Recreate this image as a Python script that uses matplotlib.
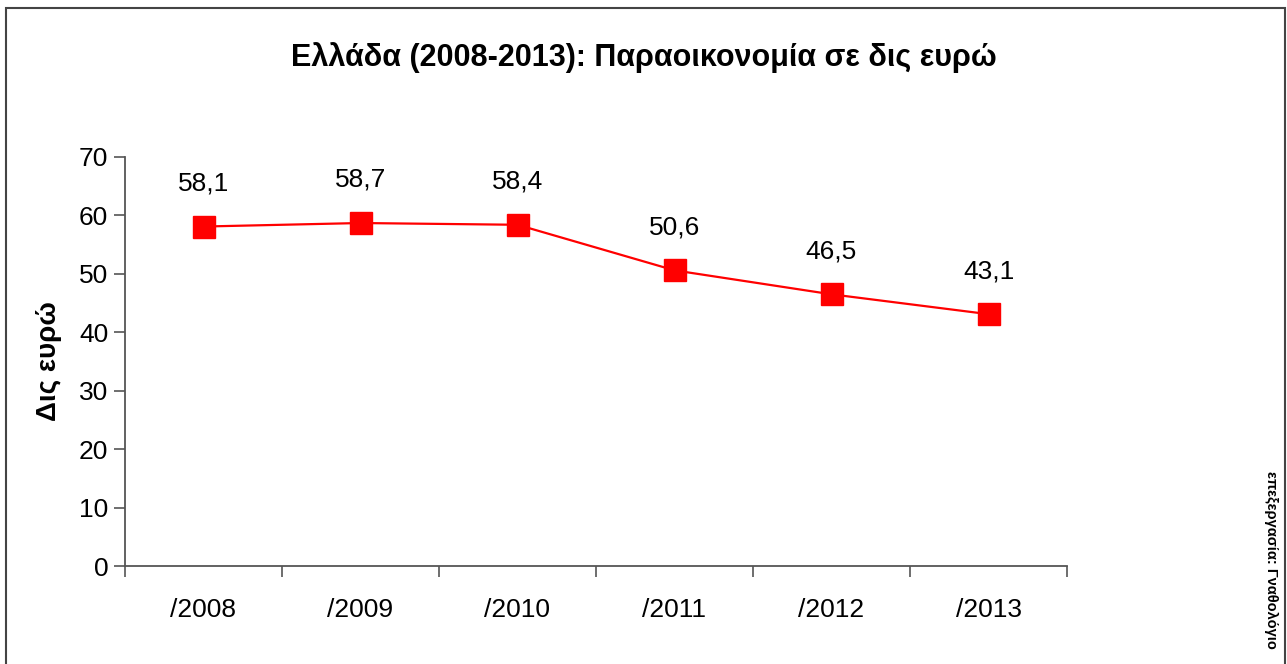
import matplotlib
matplotlib.use("Agg")
import matplotlib.pyplot as plt
from matplotlib.patches import Rectangle
import numpy as np

years = ["/2008", "/2009", "/2010", "/2011", "/2012", "/2013"]
values = [58.1, 58.7, 58.4, 50.6, 46.5, 43.1]
labels = ["58,1", "58,7", "58,4", "50,6", "46,5", "43,1"]

plt.rcParams['font.family'] = ['Liberation Sans', 'DejaVu Sans']

fig = plt.figure(figsize=(12.87, 6.64), dpi=100)
ax = fig.add_axes([125/1287, 1-566/664, (1067-125)/1287, (566-157)/664])

x = np.arange(len(years))
ax.plot(x, values, color='#FF0000', lw=1.6, marker='s', markersize=16,
        markerfacecolor='#FF0000', markeredgecolor='#FF0000')
for xi, v, lab in zip(x, values, labels):
    ax.annotate(lab, (xi, v), xytext=(0, 31), textcoords='offset points',
                ha='center', va='center', fontsize=19)

ax.set_xlim(-0.5, len(years) - 0.5)
ax.set_ylim(0, 70)
ax.set_yticks(range(0, 71, 10))
ax.set_xticks(x)
ax.set_xticklabels(years)
ax.set_xticks(np.arange(-0.5, len(years), 1), minor=True)
ax.tick_params(axis='x', which='major', length=0, pad=23, labelsize=19)
ax.tick_params(axis='x', which='minor', length=8, width=1.2, color='#555555')
ax.tick_params(axis='y', length=8, width=1.2, color='#555555', labelsize=19, pad=4)
for s in ['top', 'right']:
    ax.spines[s].set_visible(False)
for s in ['left', 'bottom']:
    ax.spines[s].set_color('#555555')
    ax.spines[s].set_linewidth(1.3)

ax.set_ylabel("Δις ευρώ", fontsize=20, fontweight='bold', labelpad=12)

fig.text(0.5 + (0.0)/1287, 1-58/664, "Ελλάδα (2008-2013): Παραοικονομία σε δις ευρώ",
         ha='center', va='center', fontsize=22, fontweight='bold')

fig.text(1271/1287, 1-560/664, "επεξεργασία: Γναθολόγιο", rotation=-90,
         ha='center', va='center', fontsize=10.5, fontweight='bold')

fig.patches.append(Rectangle((6/1287, -0.05), (1285-6)/1287, 1.05-8/664,
                             transform=fig.transFigure, fill=False,
                             edgecolor='#444444', lw=1.5))

fig.savefig("out.png", dpi=100)
